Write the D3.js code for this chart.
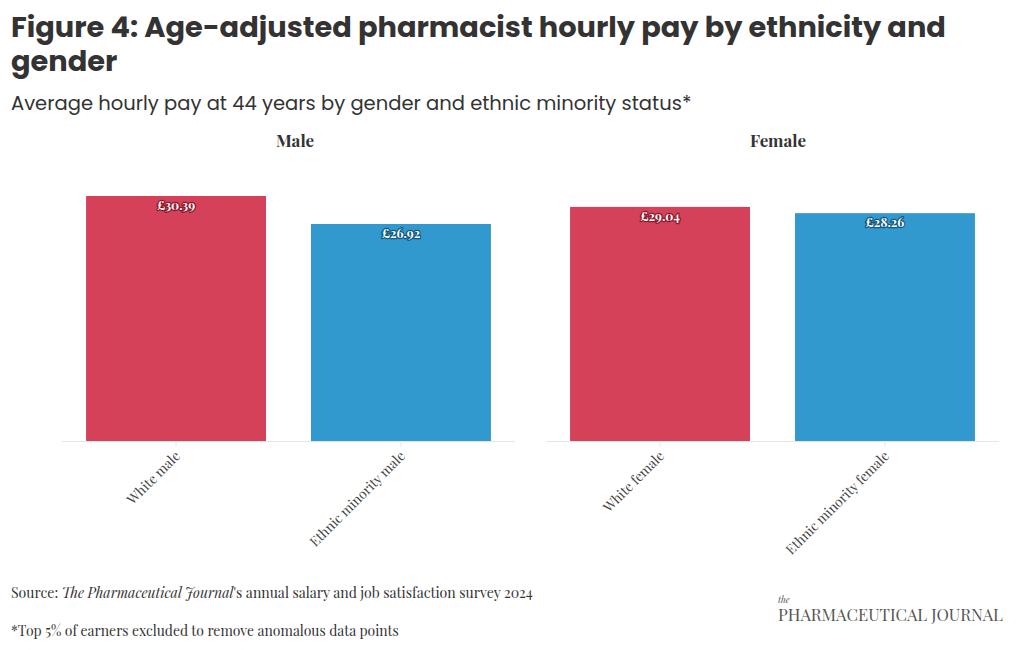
<!DOCTYPE html>
<html><head><meta charset="utf-8">
<script src="https://cdn.jsdelivr.net/npm/d3@7"></script>
<style>
body{margin:0;background:#fff;}
svg{display:block;}
</style></head>
<body><svg id="chart" width="1020" height="650"></svg>
<script>
const titleLines = ["Figure 4: Age-adjusted pharmacist hourly pay by ethnicity and", "gender"];
const subtitle = "Average hourly pay at 44 years by gender and ethnic minority status*";
const panels = ["Male", "Female"];
const maleCategories = ["White male", "Ethnic minority male"];
const maleValues = [30.39, 26.92];
const femaleCategories = ["White female", "Ethnic minority female"];
const femaleValues = [29.04, 28.26];
const barColors = ["#d6415a", "#3199cd"];
const labelOutline = ["#8a1a2c", "#14587e"];

const svg = d3.select("#chart");
const sans = "Poppins, 'Open Sans', sans-serif";
const serif = "'Playfair Display', 'Liberation Serif', serif";

function fit(sel, w){
  const n = sel.node();
  let fs = parseFloat(sel.attr("font-size"));
  const len = n.getComputedTextLength();
  if (len > 0) sel.attr("font-size", fs * w / len);
}

// Title
const t1 = svg.append("text").attr("x", 11).attr("y", 37).attr("font-family", sans)
  .attr("font-weight", 700).attr("font-size", 28).attr("fill", "#333").text(titleLines[0]);
fit(t1, 935);
svg.append("text").attr("x", 11).attr("y", 71).attr("font-family", sans)
  .attr("font-weight", 700).attr("font-size", t1.attr("font-size")).attr("fill", "#333").text(titleLines[1]);
const st = svg.append("text").attr("x", 11).attr("y", 110).attr("font-family", sans)
  .attr("font-size", 20).attr("fill", "#333").text(subtitle);
fit(st, 681);

const baseY = 441;
const y = d3.scaleLinear().domain([0, 35]).range([baseY, baseY - 35 * 8.062]);

const panelDefs = [
  {name: panels[0], cats: maleCategories, vals: maleValues, x0: 62, x1: 515, tx: 295},
  {name: panels[1], cats: femaleCategories, vals: femaleValues, x0: 546, x1: 999, tx: 778}
];

panelDefs.forEach(p => {
  const g = svg.append("g");
  const x = d3.scaleBand().domain(p.cats).range([p.x0, p.x1]).paddingInner(0.2).paddingOuter(0.107);
  g.append("text").attr("x", p.tx).attr("y", 147).attr("text-anchor", "middle")
    .attr("font-family", serif).attr("font-weight", 700).attr("font-size", 17).attr("fill", "#333").text(p.name);

  g.selectAll("rect").data(p.vals).join("rect")
    .attr("x", (d, i) => x(p.cats[i])).attr("width", x.bandwidth())
    .attr("y", d => y(d)).attr("height", d => baseY - y(d))
    .attr("fill", (d, i) => barColors[i]);

  g.selectAll("text.lbl").data(p.vals).join("text").attr("class", "lbl")
    .attr("x", (d, i) => x(p.cats[i]) + x.bandwidth() / 2).attr("y", d => y(d) + 14)
    .attr("text-anchor", "middle").attr("font-family", serif).attr("font-weight", 700)
    .attr("font-size", 12.5).attr("fill", "#fff")
    .attr("stroke", (d, i) => labelOutline[i]).attr("stroke-width", 2.5)
    .attr("stroke-linejoin", "round").attr("paint-order", "stroke")
    .text(d => "£" + d.toFixed(2));

  const ax = g.append("g").attr("transform", `translate(0,${baseY})`)
    .call(d3.axisBottom(x).tickSize(6).tickSizeOuter(0));
  ax.select(".domain").attr("stroke", "#e6e6e6").attr("d", `M${p.x0},0.5H${p.x1}`);
  ax.selectAll(".tick line").attr("stroke", "#e6e6e6");
  ax.selectAll(".tick text")
    .attr("font-family", serif).attr("font-size", 13.5).attr("fill", "#444")
    .attr("text-anchor", "end").attr("dy", null).attr("y", 0)
    .attr("transform", "translate(5,16) rotate(-45)");
});

// Source and footnote
const src = svg.append("text").attr("x", 11).attr("y", 598).attr("font-family", serif)
  .attr("font-size", 14).attr("fill", "#333");
src.append("tspan").text("Source: ");
src.append("tspan").attr("font-style", "italic").text("The Pharmaceutical Journal");
src.append("tspan").text("'s annual salary and job satisfaction survey 2024");
fit(src, 522);
const fn = svg.append("text").attr("x", 11).attr("y", 636).attr("font-family", serif)
  .attr("font-size", 14).attr("fill", "#333").text("*Top 5% of earners excluded to remove anomalous data points");
fit(fn, 388);

// Logo
svg.append("text").attr("x", 778).attr("y", 603).attr("font-family", serif).attr("font-style", "italic")
  .attr("font-size", 9).attr("fill", "#555").text("the");
const logo = svg.append("text").attr("x", 778).attr("y", 621).attr("font-family", serif)
  .attr("font-size", 16).attr("fill", "#555").text("PHARMACEUTICAL JOURNAL");
fit(logo, 225);
</script></body></html>
